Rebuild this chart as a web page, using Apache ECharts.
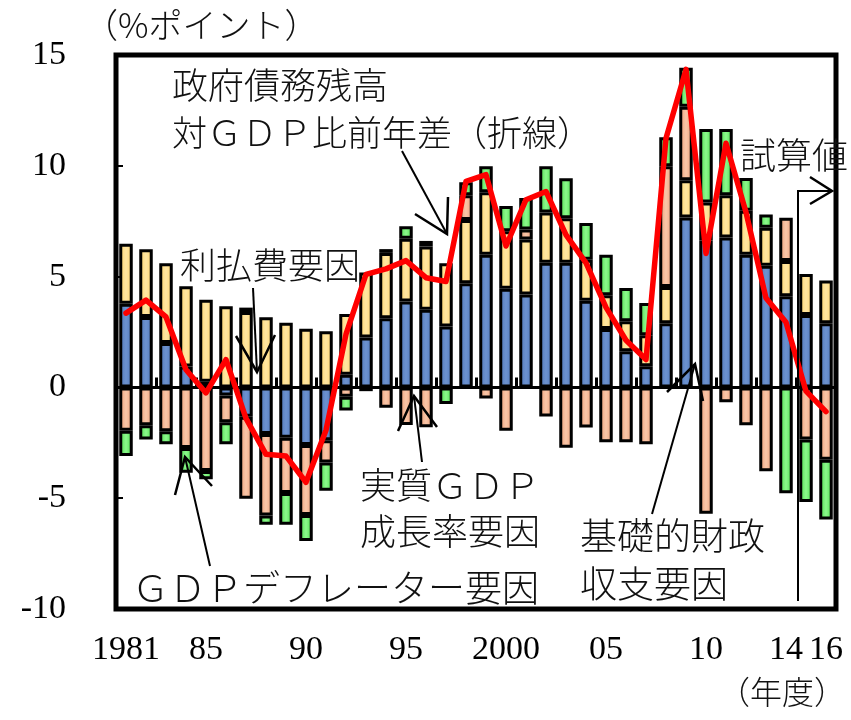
<!DOCTYPE html>
<html>
<head>
<meta charset="utf-8">
<script src="https://cdn.jsdelivr.net/npm/echarts@6/dist/echarts.min.js"></script>
<style>
html, body {margin: 0; padding: 0; background: #fff;}
#chart {width: 851px; height: 720px;}
</style>
</head>
<body>
<div id="chart"></div>
<script>
// 年度
var years = ['1981', '1982', '1983', '1984', '1985', '1986', '1987', '1988', '1989', '1990',
    '1991', '1992', '1993', '1994', '1995', '1996', '1997', '1998', '1999', '2000',
    '2001', '2002', '2003', '2004', '2005', '2006', '2007', '2008', '2009', '2010',
    '2011', '2012', '2013', '2014', '2015', '2016'];
// 目盛ラベル
var tickYears = ['1981', '1985', '1990', '1995', '2000', '2005', '2010', '2014', '2016'];
var tickLabels = ['1981', '85', '90', '95', '2000', '05', '10', '14', '16'];

// 基礎的財政収支要因（青）
var primaryBalance = [3.77, 3.18, 2.0, 0.94, 0.26, -0.37, -1.33, -2.1, -2.27, -2.6,
    -2.38, 0.57, 2.25, 3.12, 3.88, 3.5, 2.75, 4.7, 5.99, 4.45,
    4.19, 5.62, 5.62, 3.91, 2.63, 1.63, 0.96, 2.9, 7.67, 6.63,
    6.76, 5.99, 5.49, 4.11, 3.27, 2.9];
// 利払費要因（黄）
var interest = [2.71, 3.05, 3.6, 3.63, 3.69, 3.66, 3.4, 3.16, 2.92, 2.65,
    2.53, 2.74, 2.93, 2.95, 2.83, 2.86, 2.85, 2.85, 2.82, 2.6,
    2.48, 2.27, 2.01, 1.85, 1.53, 1.36, 1.39, 1.63, 1.68, 1.71,
    1.91, 1.98, 1.72, 1.59, 1.85, 1.92];
// 実質GDP成長率要因（橙）
var realGrowth = [-1.96, -1.71, -1.98, -2.73, -3.77, -1.2, -3.7, -3.68, -2.5, -3.16,
    -1.01, -0.42, -0.17, -0.92, -1.7, -1.8, null, 1.12, -0.5, -1.96,
    0.45, -1.31, -2.72, -1.81, -2.47, -2.47, -2.57, 5.45, 3.32, -5.7,
    -0.67, -1.71, -3.78, 1.96, -2.35, -3.27];
// GDPデフレーター要因（緑）
var deflator = [-1.14, -0.64, -0.58, -1.12, -0.38, -1.0, 0.2, -0.42, -1.43, -1.17,
    -1.27, -0.62, null, 0.17, 0.56, 0.25, -0.75, 0.59, 1.17, 1.14,
    1.43, 2.09, 1.81, 1.66, 1.83, 1.49, 1.46, 1.31, 1.76, 3.32,
    2.99, 1.48, 0.59, -4.78, -2.82, -2.69];
// 政府債務残高対GDP比前年差（折線）
var debtChange = [3.35, 3.94, 3.18, 0.8, -0.25, 1.25, -1.4, -3.02, -3.1, -4.28,
    -1.93, 2.4, 5.1, 5.35, 5.72, 4.95, 4.78, 9.3, 9.6, 6.38,
    8.47, 8.84, 6.88, 5.62, 3.61, 2.13, 1.26, 11.24, 14.35, 6.04,
    11.02, 7.9, 4.03, 2.94, -0.17, -1.09];

var jpFont = '"Noto Sans CJK JP", sans-serif';
var numFont = 'Liberation Serif';

function barFill(edge, mid) {
    return new echarts.graphic.LinearGradient(0, 0, 1, 0, [
        {offset: 0, color: edge},
        {offset: 0.5, color: mid},
        {offset: 1, color: edge}
    ]);
}

function barSeries(name, data, edge, mid) {
    return {
        name: name,
        type: 'bar',
        stack: 'factor',
        barWidth: 13.5,
        data: data,
        itemStyle: {
            color: barFill(edge, mid),
            borderColor: '#000',
            borderWidth: 3
        },
        z: 2
    };
}

function label(text, x, y, size) {
    return {
        type: 'text', left: x, top: y - size / 2 - 2, z: 10,
        style: {text: text, fontSize: size, fontFamily: jpFont, fontWeight: 300, fill: '#111'}
    };
}

function arrow(points, width) {
    return {
        type: 'polyline', z: 10,
        shape: {points: points},
        style: {stroke: '#000', lineWidth: width || 2.5, fill: null}
    };
}

var option = {
    animation: false,
    backgroundColor: '#fff',
    textStyle: {fontFamily: numFont},
    grid: {
        left: 116, top: 55, width: 720, height: 554,
        show: true, borderColor: '#000', borderWidth: 5,
        backgroundColor: 'transparent',
        outerBoundsMode: 'none'
    },
    xAxis: [{
        type: 'category',
        data: years,
        position: 'bottom',
        axisLine: {onZero: true, lineStyle: {color: '#000', width: 3}},
        axisTick: {show: true, inside: true, length: 10, lineStyle: {color: '#000', width: 3}},
        axisLabel: {show: false},
        splitLine: {show: false}
    }, {
        type: 'category',
        data: years,
        position: 'bottom',
        axisLine: {show: false, onZero: false},
        axisTick: {show: false},
        splitLine: {show: false},
        axisLabel: {
            interval: 0,
            margin: 24,
            fontSize: 34,
            fontFamily: numFont,
            color: '#000',
            formatter: function (v) {
                var i = tickYears.indexOf(v);
                return i >= 0 ? tickLabels[i] : '';
            }
        }
    }],
    yAxis: {
        type: 'value',
        min: -10, max: 15, interval: 5,
        axisLine: {show: false},
        axisTick: {show: true, inside: true, length: 7, lineStyle: {color: '#000', width: 2}},
        splitLine: {show: false},
        axisLabel: {fontSize: 34, fontFamily: numFont, color: '#000', margin: 50}
    },
    series: [
        barSeries('基礎的財政収支要因', primaryBalance, '#5076b8', '#6c92d0'),
        barSeries('利払費要因', interest, '#ffd46a', '#ffe6a2'),
        barSeries('実質ＧＤＰ成長率要因', realGrowth, '#ec9c76', '#f9c6a8'),
        barSeries('ＧＤＰデフレーター要因', deflator, '#48dc48', '#8cf88c'),
        {
            name: '政府債務残高対ＧＤＰ比前年差',
            type: 'line',
            data: debtChange,
            symbol: 'none',
            lineStyle: {color: '#ff0000', width: 5.5, cap: 'round', join: 'round'},
            z: 5
        }
    ],
    graphic: [
        label('（%ポイント）', 84, 27, 34),
        label('政府債務残高', 172, 87, 36),
        label('対ＧＤＰ比前年差（折線）', 172, 135, 35),
        label('利払費要因', 180, 267, 36),
        label('試算値', 740, 157, 36),
        label('実質ＧＤＰ', 360, 487, 36),
        label('成長率要因', 360, 533, 36),
        label('基礎的財政', 580, 538, 37),
        label('収支要因', 580, 586, 37),
        label('ＧＤＰデフレーター要因', 132, 590, 37),
        label('（年度）', 718, 694, 32),
        // 矢印
        arrow([[402, 151], [447, 234]], 2),
        arrow([[415, 214], [447, 234], [448, 197]]),
        arrow([[253, 288], [257, 372]], 2),
        arrow([[236, 336], [257, 372], [275, 335]]),
        arrow([[422, 462], [414, 396]], 2),
        arrow([[398, 431], [414, 396], [437, 427]]),
        arrow([[210, 566], [185, 457]], 2),
        arrow([[175, 495], [185, 457], [212, 486]]),
        arrow([[652, 514], [695, 364]], 2),
        arrow([[667, 392], [695, 364], [703, 401]]),
        arrow([[798, 601], [798, 191], [832, 191]], 2),
        arrow([[810, 177], [832, 191], [810, 204]])
    ]
};

var chart = echarts.init(document.getElementById('chart'), null, {renderer: 'canvas'});
chart.setOption(option);
</script>
</body>
</html>
